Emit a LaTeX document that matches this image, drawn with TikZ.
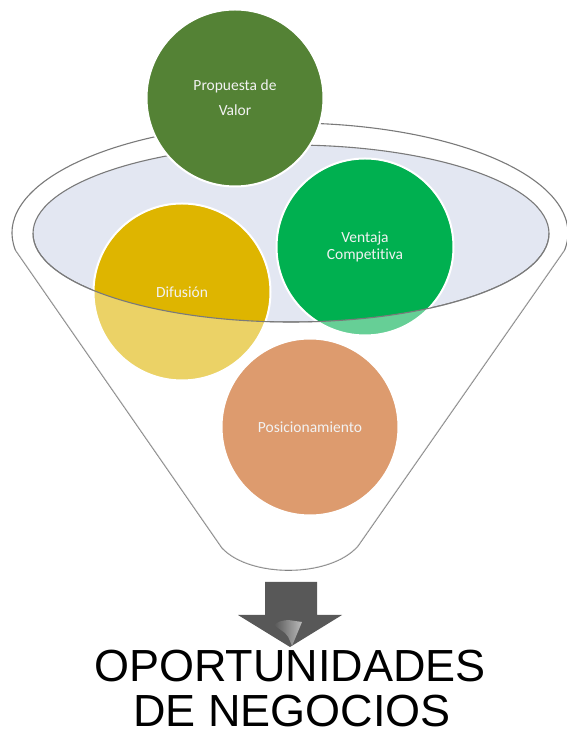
\documentclass[tikz,border=0pt]{standalone}
\usepackage{fontspec}
\setmainfont{Carlito}[Ligatures=NoCommon]
\newfontfamily\arialfont{Liberation Sans}
\definecolor{edgegray}{HTML}{7A7A7A}
\definecolor{lavender}{HTML}{E3E7F2}
\definecolor{cvalor}{HTML}{548235}
\definecolor{cventaja}{HTML}{00B050}
\definecolor{cdifusion}{HTML}{DEB500}
\definecolor{cposic}{HTML}{DD9B6E}
\definecolor{txt}{HTML}{F2F2F2}
\definecolor{arrowgray}{HTML}{585858}
\begin{document}
\begin{tikzpicture}[x=1pt,y=1pt,
  rim/.style={draw=edgegray, line width=1.1pt},
  bubble/.style={circle, minimum size=177pt, inner sep=0pt, draw=white, line width=2pt,
    text=txt, font=\fontsize{15.5}{17}\selectfont, align=center},
  bigtext/.style={font=\arialfont\fontsize{45}{45}\selectfont, text=black, anchor=base, inner sep=0pt}]
\useasboundingbox (0,0) rectangle (567,736);
% key points of the funnel
\coordinate (rimc) at (290,503);
\coordinate (innc) at (291,502.5);
\coordinate (lt) at (15.35,486);
\coordinate (rt) at (564.65,486);
\coordinate (rb) at (358,190);
\coordinate (lb) at (222,188);
\coordinate (il) at (33,502.5);
% funnel body
\path[rim, fill=white] (lt) arc[start angle=188.9, end angle=-8.9, x radius=278pt, y radius=110pt]
  -- (rb) .. controls (330,158) and (250,158) .. (lb) -- cycle;
% inner opening
\draw[rim, fill=lavender] (innc) ellipse [x radius=258pt, y radius=88.5pt];
% circles inside the opening
\node[bubble, fill=cdifusion] (dif) at (182,444) {Difusión};
\node[bubble, fill=cventaja] (ven) at (365,489) {Ventaja\\Compet\kern0pt it\kern0pt iva};
% front of funnel (translucent)
\fill[white, opacity=0.4] (il) arc[start angle=180, end angle=360, x radius=258pt, y radius=88.5pt]
  -- (rt) -- (rb) .. controls (330,158) and (250,158) .. (lb) -- (lt) -- cycle;
\draw[rim] (il) arc[start angle=180, end angle=360, x radius=258pt, y radius=88.5pt];
% lower and upper circles
\node[bubble, fill=cposic] (pos) at (310,309) {Posicionamiento};
\node[bubble, fill=cvalor] (val) at (235,638) {Propuesta de\\[8pt]Valor};
% arrow
\fill[arrowgray] (265,154) -- (317,154) -- (317,121) -- (342,121) -- (290,89) -- (238,121) -- (265,121) -- cycle;
\shade[left color=arrowgray, right color=gray!45, opacity=0.9] (274,111) .. controls (280,115) .. (288,116) -- (302,114) -- (292,90) .. controls (288,100) .. (285,103) -- cycle;
% caption
\node[bigtext] (t1) at (290,54) {OPORTUNIDADES};
\node[bigtext] (t2) at (292,9.5) {DE NEGOCIOS};
\end{tikzpicture}
\end{document}
